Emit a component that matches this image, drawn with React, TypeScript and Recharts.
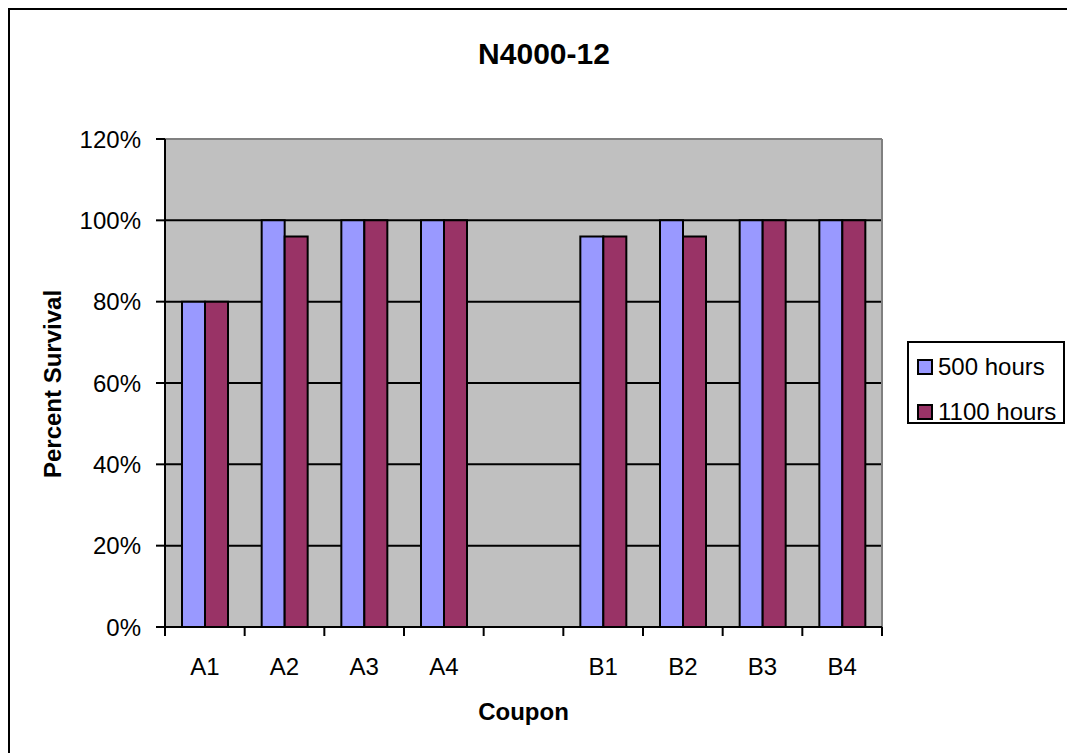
import { BarChart, Bar, XAxis, YAxis, CartesianGrid, ReferenceLine } from 'recharts';

const coupons = ['A1', 'A2', 'A3', 'A4', ' ', 'B1', 'B2', 'B3', 'B4'];
const hours500 = [80, 100, 100, 100, null, 96, 100, 100, 100];
const hours1100 = [80, 96, 100, 100, null, 96, 96, 100, 100];
const yTicks = [0, 20, 40, 60, 80, 100, 120];

const seriesNames = ['500 hours', '1100 hours'];
const seriesColors = ['#9999FF', '#993366'];

const data = coupons.map((name, i) => ({
  name,
  h500: hours500[i],
  h1100: hours1100[i],
}));

const FONT = 'Arial, "Liberation Sans", sans-serif';
const PAGE_W = 1067;
const CHART_W = 1000;
const PLOT_LEFT = 165;
const PLOT_RIGHT = 882;
const PLOT_TOP = 139;
const PLOT_BOTTOM = 627;
const BAND = (PLOT_RIGHT - PLOT_LEFT) / coupons.length;

function XTick(props: any) {
  const { x, payload, index } = props;
  const last = index === coupons.length - 1;
  return (
    <g>
      <line x1={x - BAND / 2} x2={x - BAND / 2} y1={PLOT_BOTTOM} y2={PLOT_BOTTOM + 9} stroke="#000" strokeWidth={2} />
      {last && (
        <line x1={x + BAND / 2} x2={x + BAND / 2} y1={PLOT_BOTTOM} y2={PLOT_BOTTOM + 9} stroke="#000" strokeWidth={2} />
      )}
      <text x={x} y={675} textAnchor="middle" fontSize={24} fontFamily={FONT} fill="#000">
        {payload.value}
      </text>
    </g>
  );
}

function YLabel() {
  return (
    <text
      x={52}
      y={384}
      transform="rotate(-90 52 384)"
      textAnchor="middle"
      dominantBaseline="central"
      fontSize={24}
      fontWeight="bold"
      fontFamily={FONT}
      fill="#000"
    >
      Percent Survival
    </text>
  );
}

function LegendBox() {
  return (
    <div
      style={{
        position: 'absolute',
        left: 907,
        top: 341,
        width: 154,
        height: 79,
        border: '2px solid #000',
        background: '#fff',
        fontFamily: FONT,
        fontSize: 24,
        boxSizing: 'content-box',
        whiteSpace: 'nowrap',
      }}
    >
      {seriesNames.map((n, i) => (
        <div key={n} style={{ display: 'flex', alignItems: 'center', height: 24, marginTop: i === 0 ? 12 : 21, marginLeft: 8 }}>
          <span style={{ width: 12, height: 12, background: seriesColors[i], border: '2px solid #000', marginRight: 5 }} />
          <span>{n}</span>
        </div>
      ))}
    </div>
  );
}

export default function App() {
  return (
    <div style={{ position: 'fixed', left: 0, top: 0, width: PAGE_W, height: 753, overflow: 'hidden', background: '#fff' }}>
      <svg width={PAGE_W} height={753} style={{ position: 'absolute', left: 0, top: 0 }}>
        <path d={`M9 753 V9 H${PAGE_W}`} fill="none" stroke="#000" strokeWidth={2} />
      </svg>
      <div
        style={{
          position: 'absolute',
          left: 544,
          top: 54,
          transform: 'translate(-50%, -50%)',
          fontFamily: FONT,
          fontSize: 30,
          fontWeight: 'bold',
          whiteSpace: 'nowrap',
        }}
      >
        N4000-12
      </div>
      <div style={{ position: 'absolute', left: 0, top: 0 }}>
        <BarChart
          width={CHART_W}
          height={753}
          data={data}
          margin={{ top: PLOT_TOP, right: CHART_W - PLOT_RIGHT, bottom: 0, left: 0 }}
          barGap={0}
          barSize={23}
        >
          <CartesianGrid vertical={false} stroke="#000" strokeWidth={2} fill="#C0C0C0" fillOpacity={1} />
          <ReferenceLine y={120} stroke="#808080" strokeWidth={2} />
          <ReferenceLine x="B4" position="end" stroke="#808080" strokeWidth={2} />
          <XAxis
            dataKey="name"
            interval={0}
            height={753 - PLOT_BOTTOM}
            tickLine={false}
            axisLine={{ stroke: '#000', strokeWidth: 2 }}
            tick={<XTick />}
            label={{
              value: 'Coupon',
              position: 'insideBottom',
              offset: 33,
              fontSize: 24,
              fontWeight: 'bold',
              fontFamily: FONT,
              fill: '#000',
            }}
          />
          <YAxis
            width={PLOT_LEFT}
            domain={[0, 120]}
            ticks={yTicks}
            interval={0}
            tickFormatter={(v: number) => `${v}%`}
            tickSize={9}
            tickMargin={15}
            tickLine={{ stroke: '#000', strokeWidth: 2 }}
            axisLine={{ stroke: '#000', strokeWidth: 2 }}
            tick={{ fontSize: 24, fontFamily: FONT, fill: '#000' }}
            label={<YLabel />}
          />
          <Bar dataKey="h500" name={seriesNames[0]} fill={seriesColors[0]} stroke="#000" strokeWidth={2} isAnimationActive={false} />
          <Bar dataKey="h1100" name={seriesNames[1]} fill={seriesColors[1]} stroke="#000" strokeWidth={2} isAnimationActive={false} />
        </BarChart>
      </div>
      <LegendBox />
    </div>
  );
}
